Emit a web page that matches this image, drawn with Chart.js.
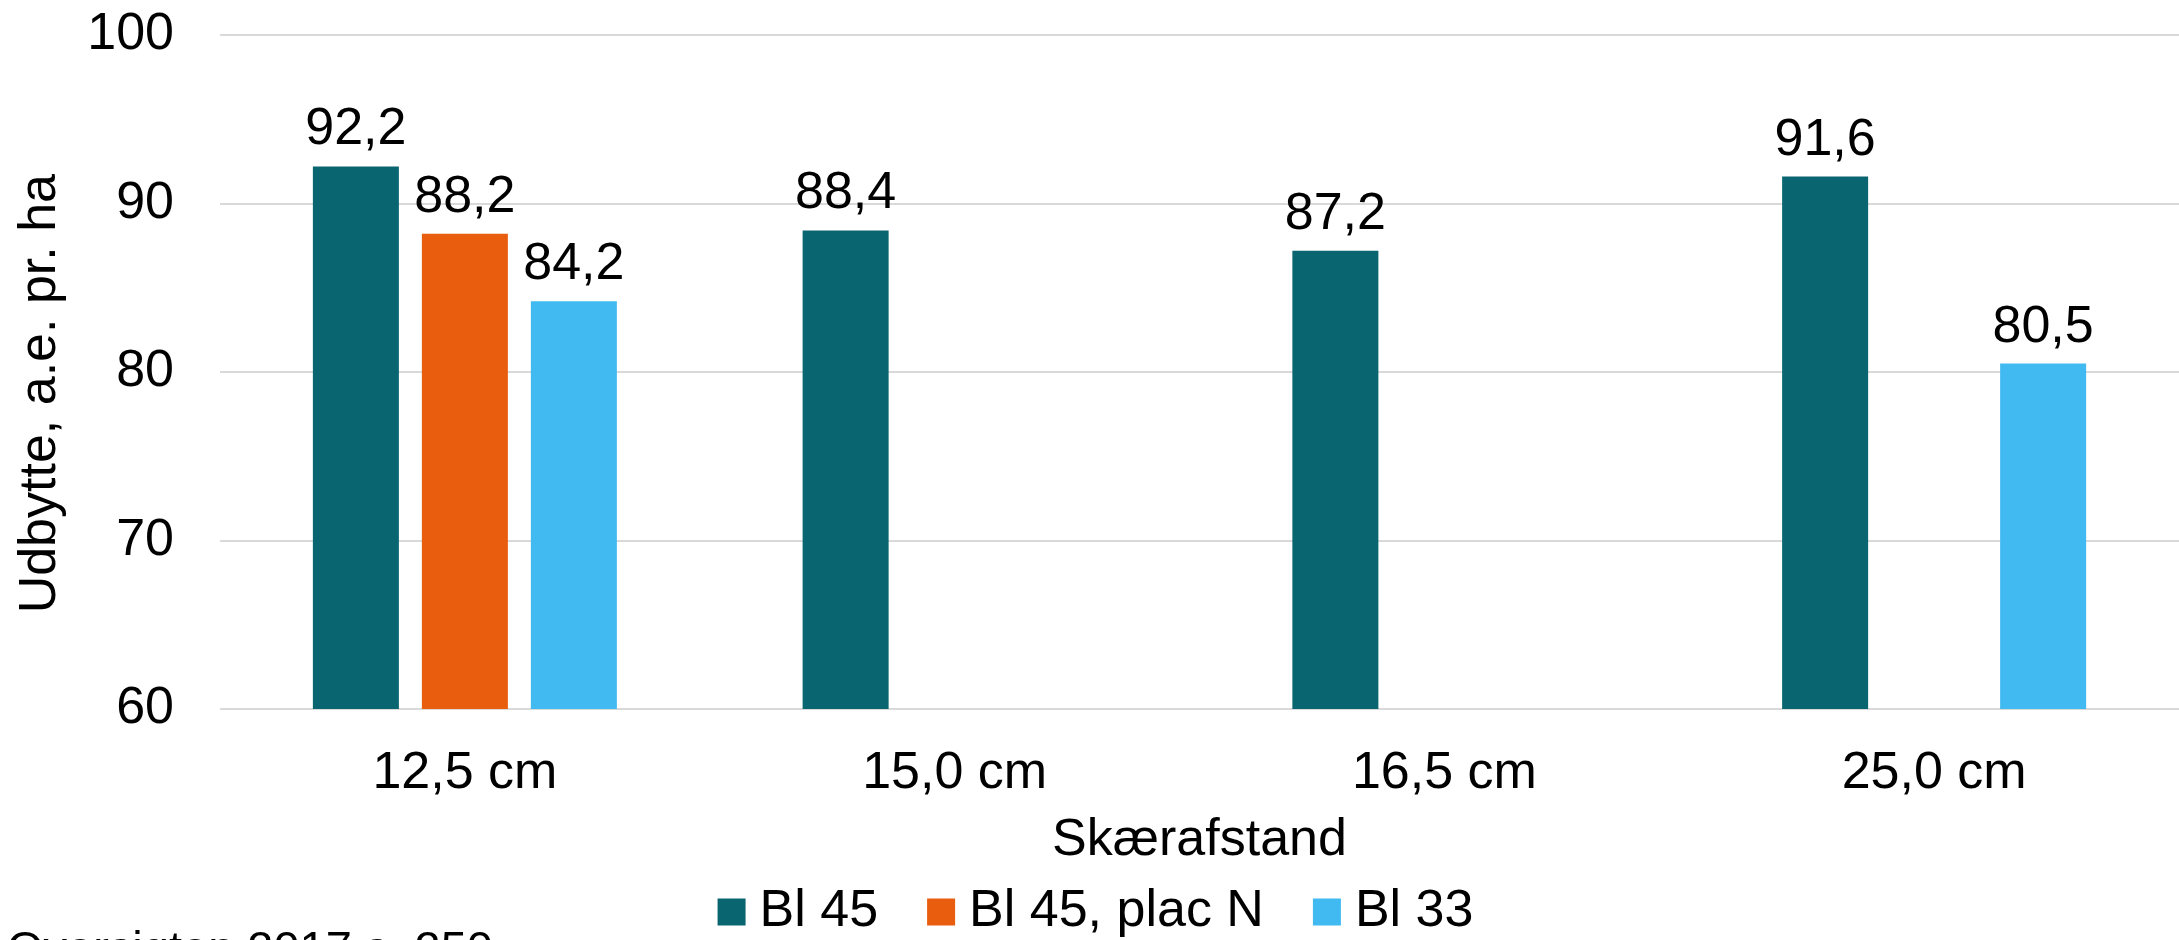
<!DOCTYPE html>
<html><head><meta charset="utf-8">
<script src="https://cdn.jsdelivr.net/npm/chart.js@4.4.1/dist/chart.umd.min.js"></script>
<style>html,body{margin:0;padding:0;background:#fff;overflow:hidden}#wrap{width:2179px;height:940px;position:relative}</style>
</head><body><div id="wrap"><canvas id="c" width="2179" height="940"></canvas></div>
<script>
const categories = ['12,5 cm', '15,0 cm', '16,5 cm', '25,0 cm'];
const seriesNames = ['Bl 45', 'Bl 45, plac N', 'Bl 33'];
const bl45 = [92.2, 88.4, 87.2, 91.6];
const bl45PlacN = [88.2, null, null, null];
const bl33 = [84.2, null, null, 80.5];
const yTicks = [60, 70, 80, 90, 100];
const seriesColors = ['#096570', '#E85D0E', '#41BAF2'];
const yTitle = 'Udbytte, a.e. pr. ha   ';
const xTitle = 'Skærafstand';
const sourceNote = 'Oversigten 2017 s. 250';

const FONT = '"Liberation Sans", Arial, sans-serif';

const valueLabels = {
  id: 'valueLabels',
  afterDatasetsDraw(chart) {
    const ctx = chart.ctx;
    ctx.save();
    ctx.font = '52px ' + FONT;
    ctx.fillStyle = '#000';
    ctx.textAlign = 'center';
    ctx.textBaseline = 'alphabetic';
    chart.data.datasets.forEach((ds, di) => {
      const meta = chart.getDatasetMeta(di);
      meta.data.forEach((el, i) => {
        const v = ds.data[i];
        if (v === null || v === undefined) return;
        ctx.fillText(v.toFixed(1).replace('.', ','), el.x, el.y - 22);
      });
    });
    ctx.restore();
  }
};

const note = {
  id: 'note',
  afterDraw(chart) {
    const ctx = chart.ctx;
    ctx.save();
    ctx.font = '47px ' + FONT;
    ctx.fillStyle = '#000';
    ctx.textAlign = 'left';
    ctx.textBaseline = 'alphabetic';
    ctx.fillText(sourceNote, 7, 964);
    ctx.restore();
  }
};

new Chart(document.getElementById('c'), {
  type: 'bar',
  data: {
    labels: categories,
    datasets: [
      { label: seriesNames[0], data: bl45, backgroundColor: seriesColors[0], borderWidth: 0 },
      { label: seriesNames[1], data: bl45PlacN, backgroundColor: seriesColors[1], borderWidth: 0 },
      { label: seriesNames[2], data: bl33, backgroundColor: seriesColors[2], borderWidth: 0 }
    ]
  },
  options: {
    responsive: false,
    animation: false,
    devicePixelRatio: 1,
    datasets: { bar: { categoryPercentage: 0.6677, barPercentage: 0.789 } },
    layout: { padding: { top: 35, left: 24, right: 0, bottom: -8 } },
    plugins: {
      tooltip: { enabled: false },
      legend: {
        position: 'bottom',
        labels: {
          font: { family: FONT, size: 52 },
          color: '#000',
          boxWidth: 4,
          boxHeight: 3,
          padding: 61,
          generateLabels(chart) {
            const items = Chart.defaults.plugins.legend.labels.generateLabels(chart);
            return items.map((it, i) => Object.assign(it, {
              fillStyle: seriesColors[i],
              strokeStyle: seriesColors[i],
              lineWidth: 24,
              lineJoin: 'miter',
              lineCap: 'butt'
            }));
          }
        }
      }
    },
    scales: {
      x: {
        grid: { display: false, drawTicks: false },
        border: { display: false },
        ticks: { font: { family: FONT, size: 52 }, color: '#000', padding: 33, maxRotation: 0 },
        title: { display: true, text: xTitle, font: { family: FONT, size: 52 }, color: '#000', padding: { top: 0, bottom: -47.2 } },
        afterFit(scale) { scale.height = 116; }
      },
      y: {
        min: 60,
        max: 100,
        afterBuildTicks(scale) { scale.ticks = yTicks.map(v => ({ value: v })); },
        grid: { color: '#d9d9d9', lineWidth: 2, drawTicks: true, tickLength: 46, tickColor: 'rgba(0,0,0,0)' },
        border: { display: false },
        ticks: { font: { family: FONT, size: 52 }, color: '#000', padding: 0 },
        title: { display: true, text: yTitle, font: { family: FONT, size: 52 }, color: '#000', padding: { top: -14.2, bottom: 0 } },
        afterFit(scale) { scale.width = 196; }
      }
    }
  },
  plugins: [valueLabels, note]
});
</script>
</body></html>
